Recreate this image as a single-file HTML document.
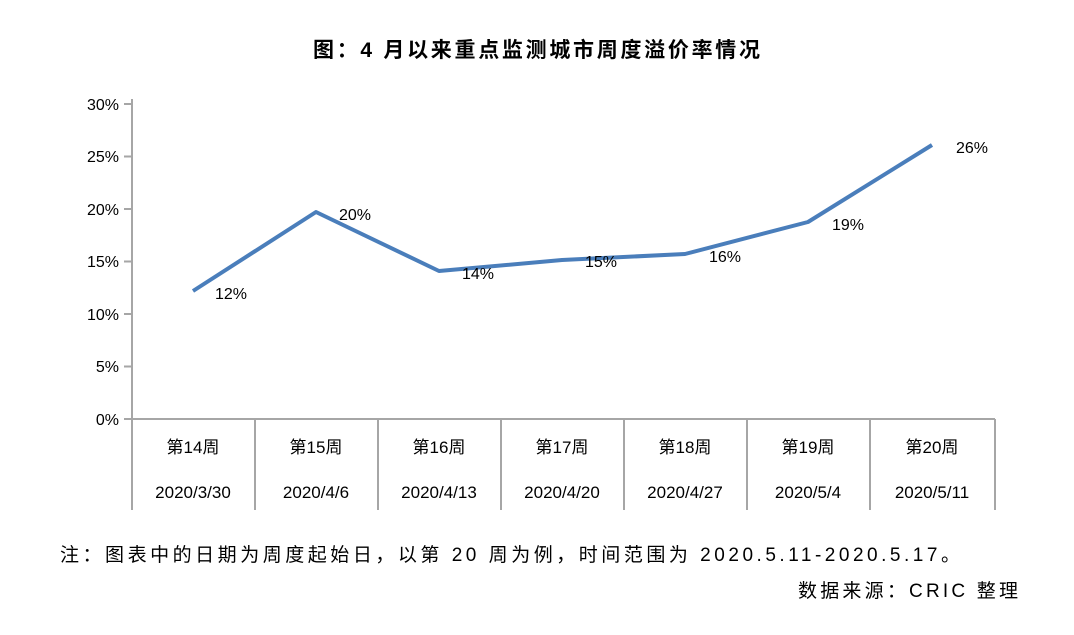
<!DOCTYPE html>
<html><head><meta charset="utf-8"><style>
body{margin:0;background:#fff;}
svg text{font-family:"Liberation Sans","Noto Sans CJK SC",sans-serif;fill:#000;}
</style></head><body>
<svg width="1074" height="630" xmlns="http://www.w3.org/2000/svg">
<text x="313" y="57" font-size="21" font-weight="bold" textLength="447" lengthAdjust="spacing">图：4 月以来重点监测城市周度溢价率情况</text>
<g stroke="#a6a6a6" stroke-width="2">
<line x1="132" y1="99" x2="132" y2="510"/>
<line x1="132" y1="419" x2="995" y2="419"/>
<line x1="124" y1="104" x2="132" y2="104"/>
<line x1="124" y1="156.5" x2="132" y2="156.5"/>
<line x1="124" y1="209" x2="132" y2="209"/>
<line x1="124" y1="261.5" x2="132" y2="261.5"/>
<line x1="124" y1="314" x2="132" y2="314"/>
<line x1="124" y1="366.5" x2="132" y2="366.5"/>
<line x1="124" y1="419" x2="132" y2="419"/>
<line x1="255" y1="419" x2="255" y2="510"/>
<line x1="378" y1="419" x2="378" y2="510"/>
<line x1="501" y1="419" x2="501" y2="510"/>
<line x1="624" y1="419" x2="624" y2="510"/>
<line x1="747" y1="419" x2="747" y2="510"/>
<line x1="870" y1="419" x2="870" y2="510"/>
<line x1="995" y1="419" x2="995" y2="510"/>
</g>
<g font-size="16" text-anchor="end">
<text x="119" y="110">30%</text><text x="119" y="162">25%</text><text x="119" y="215">20%</text>
<text x="119" y="267">15%</text><text x="119" y="320">10%</text><text x="119" y="372">5%</text><text x="119" y="425">0%</text>
</g>
<g font-size="17" text-anchor="middle">
<text x="193" y="453">第14周</text><text x="316" y="453">第15周</text><text x="439" y="453">第16周</text>
<text x="562" y="453">第17周</text><text x="685" y="453">第18周</text><text x="808" y="453">第19周</text><text x="932" y="453">第20周</text>
<text x="193" y="498">2020/3/30</text><text x="316" y="498">2020/4/6</text><text x="439" y="498">2020/4/13</text>
<text x="562" y="498">2020/4/20</text><text x="685" y="498">2020/4/27</text><text x="808" y="498">2020/5/4</text><text x="932" y="498">2020/5/11</text>
</g>
<polyline fill="none" stroke="#4a7ebb" stroke-width="4" stroke-linejoin="round" points="193,291 316,212 439,271 562,260 685,254 808,222 932,145"/>
<g font-size="16">
<text x="215" y="299">12%</text><text x="339" y="220">20%</text><text x="462" y="279">14%</text>
<text x="585" y="267">15%</text><text x="709" y="262">16%</text><text x="832" y="230">19%</text><text x="956" y="153">26%</text>
</g>
<text x="60" y="561" font-size="19" textLength="900" lengthAdjust="spacing">注：图表中的日期为周度起始日，以第 20 周为例，时间范围为 2020.5.11-2020.5.17。</text>
<text x="798" y="597" font-size="19" textLength="220" lengthAdjust="spacing">数据来源：CRIC 整理</text>
</svg>
</body></html>
